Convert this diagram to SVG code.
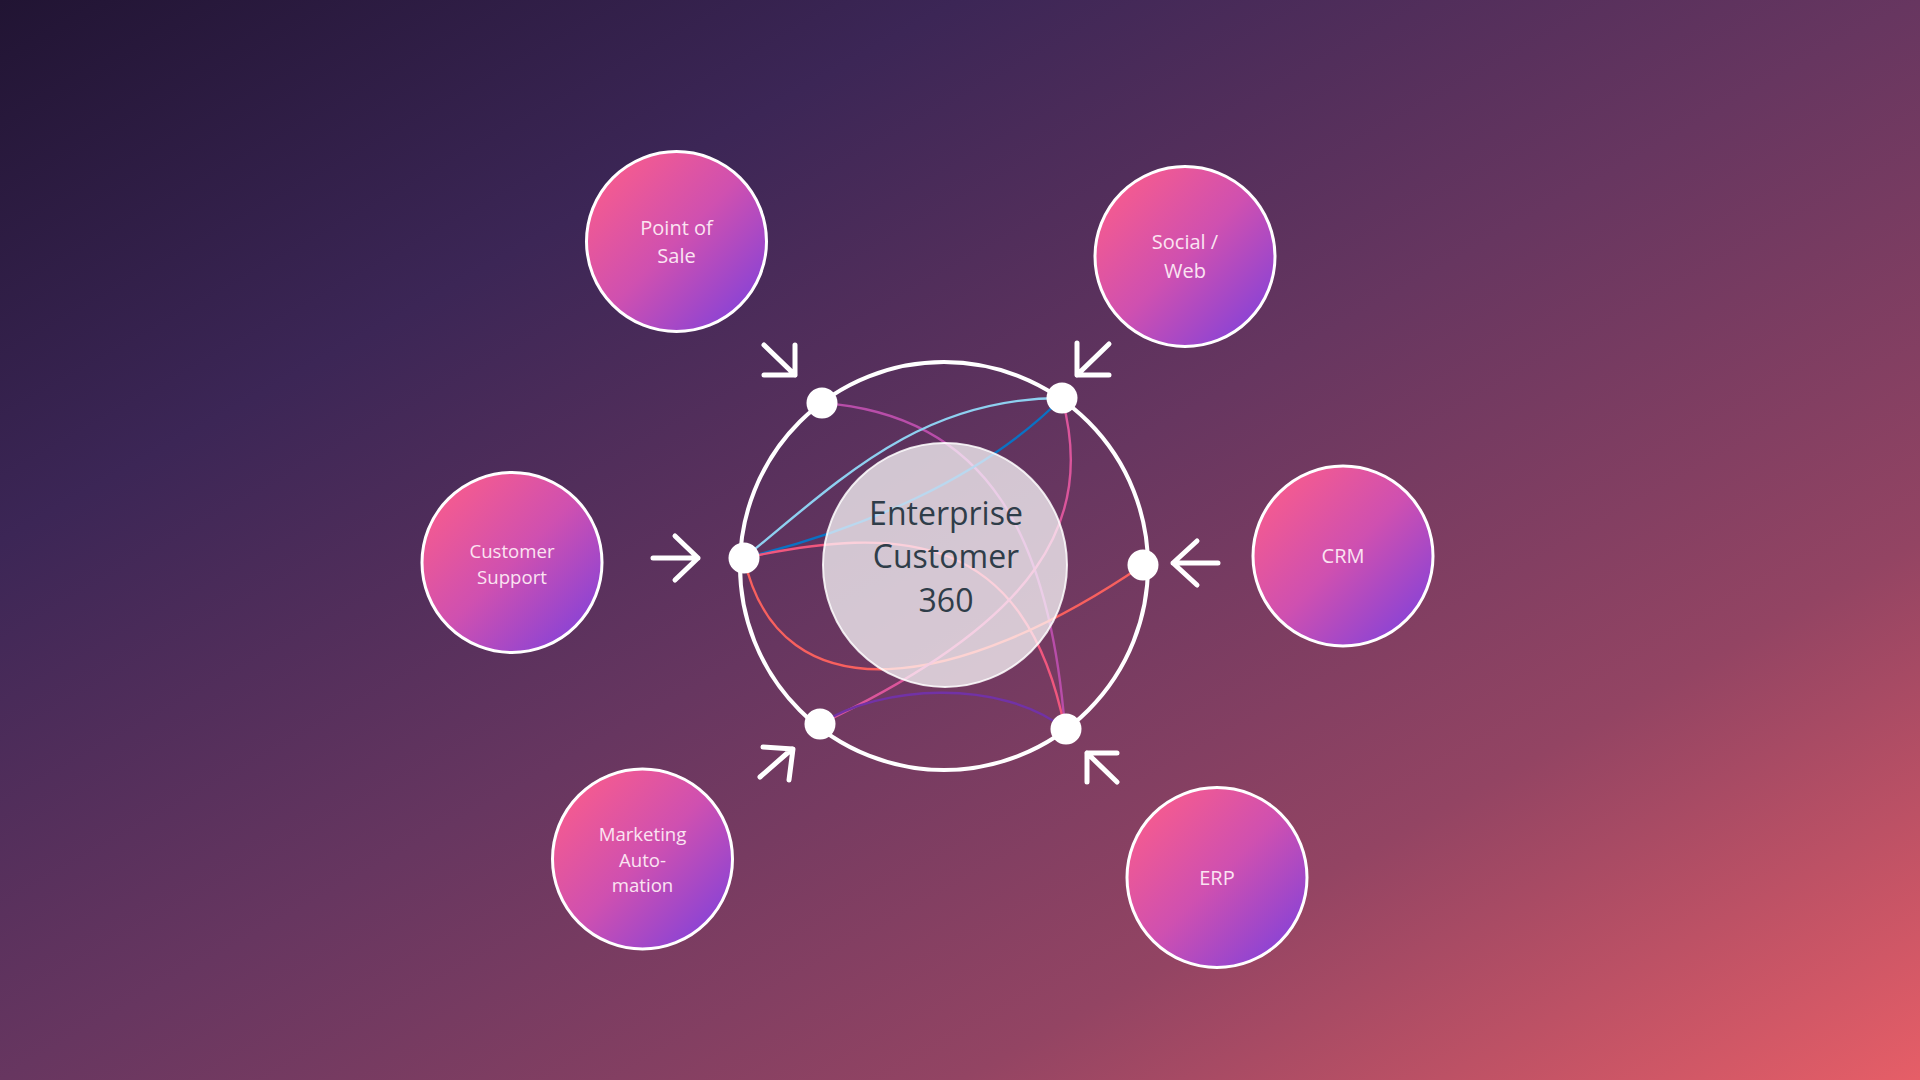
<svg xmlns="http://www.w3.org/2000/svg" width="1920" height="1080" viewBox="0 0 1920 1080">
  <defs>
    <linearGradient id="bg" x1="0" y1="0" x2="1" y2="1">
      <stop offset="0" stop-color="#211433"/>
      <stop offset="0.25" stop-color="#3C2656"/>
      <stop offset="0.5" stop-color="#673660"/>
      <stop offset="0.75" stop-color="#934463"/>
      <stop offset="1" stop-color="#E65E67"/>
    </linearGradient>
    <linearGradient id="nodeFill" x1="0.15" y1="0.15" x2="0.85" y2="0.85">
      <stop offset="0" stop-color="#F25A92"/>
      <stop offset="0.5" stop-color="#CF50B0"/>
      <stop offset="1" stop-color="#9044D2"/>
    </linearGradient>
    <style>
      .node circle { fill: url(#nodeFill); stroke: #FFFFFF; stroke-width: 3; }
      .node text { fill: #FBE4F2; font-family: "Open Sans", "Noto Sans", "Liberation Sans", sans-serif; text-anchor: middle; }
      .lg { font-size: 20px; }
      .sm { font-size: 18.6px; }
      .ring { fill: none; stroke: #FFFFFF; stroke-width: 4; }
      .dot { fill: #FFFFFF; }
      .conn path { fill: none; stroke-width: 2.4; }
      .arrow path { fill: none; stroke: #FFFFFF; stroke-width: 5; stroke-linecap: round; stroke-linejoin: round; }
      .hub circle { fill: #FFFFFF; fill-opacity: 0.72; stroke: #FFFFFF; stroke-opacity: 0.85; stroke-width: 2; }
      .hub text { fill: #2F3D49; font-family: "Open Sans", "Noto Sans", "Liberation Sans", sans-serif; font-size: 32px; text-anchor: middle; }
    </style>
  </defs>

  <rect width="1920" height="1080" fill="url(#bg)"/>

  <g id="ring-group">
    <circle class="ring" cx="944" cy="566" r="204"/>
  </g>

  <g id="connectors" class="conn">
    <path d="M822,403 C990,415 1050,540 1065,729" stroke="#B84DA9"/>
    <path d="M744,558 C840,480 920,398 1062,398" stroke="#8ED0F0"/>
    <path d="M744,558 C860,530 980,480 1062,398" stroke="#0A72C4"/>
    <path d="M744,558 C900,525 1025,530 1065,729" stroke="#F0577E"/>
    <path d="M744,558 C780,720 960,690 1143,565" stroke="#F8605E"/>
    <path d="M1062,398 C1095,520 1040,620 820,724" stroke="#DB559B"/>
    <path d="M820,724 C880,685 1000,678 1065,729" stroke="#7232A6"/>
  </g>

  <g id="dots">
    <circle class="dot" cx="822" cy="403" r="15.5"/>
    <circle class="dot" cx="1062" cy="398" r="15.5"/>
    <circle class="dot" cx="744" cy="558" r="15.5"/>
    <circle class="dot" cx="1143" cy="565" r="15.5"/>
    <circle class="dot" cx="820" cy="724" r="15.5"/>
    <circle class="dot" cx="1066" cy="729" r="15.5"/>
  </g>

  <g id="hub" class="hub">
    <circle cx="945" cy="565" r="122"/>
    <text x="946" y="525">Enterprise</text>
    <text x="946" y="568">Customer</text>
    <text x="946" y="612">360</text>
  </g>

  <g id="arrows" class="arrow">
    <path d="M764,345 L795,375 M795,345 L795,375 L764,375"/>
    <path d="M1109,344 L1077,375 M1077,343 L1077,375 L1109,375"/>
    <path d="M653,558 L698,558 M675,536 L698,558 L675,580"/>
    <path d="M1218,563 L1173,563 M1197,541 L1173,563 L1197,585"/>
    <path d="M760,777 L792,749 M763,747 L793,749 L789,780"/>
    <path d="M1117,782 L1087,753 M1117,753 L1087,753 L1087,782"/>
  </g>

  <g id="node-point-of-sale" class="node">
    <circle cx="676.5" cy="241.5" r="90"/>
    <text class="lg" x="676.5" y="235">Point of</text>
    <text class="lg" x="676.5" y="263">Sale</text>
  </g>

  <g id="node-social-web" class="node">
    <circle cx="1185" cy="256.5" r="90"/>
    <text class="lg" x="1185" y="249">Social /</text>
    <text class="lg" x="1185" y="278">Web</text>
  </g>

  <g id="node-customer-support" class="node">
    <circle cx="512" cy="562.5" r="90"/>
    <text class="sm" x="512" y="558">Customer</text>
    <text class="sm" x="512" y="584">Support</text>
  </g>

  <g id="node-crm" class="node">
    <circle cx="1343" cy="556" r="90"/>
    <text class="lg" x="1343" y="563">CRM</text>
  </g>

  <g id="node-marketing-automation" class="node">
    <circle cx="642.5" cy="859" r="90"/>
    <text class="sm" x="642.5" y="841">Marketing</text>
    <text class="sm" x="642.5" y="867">Auto-</text>
    <text class="sm" x="642.5" y="892">mation</text>
  </g>

  <g id="node-erp" class="node">
    <circle cx="1217" cy="877.5" r="90"/>
    <text class="lg" x="1217" y="885">ERP</text>
  </g>
</svg>
